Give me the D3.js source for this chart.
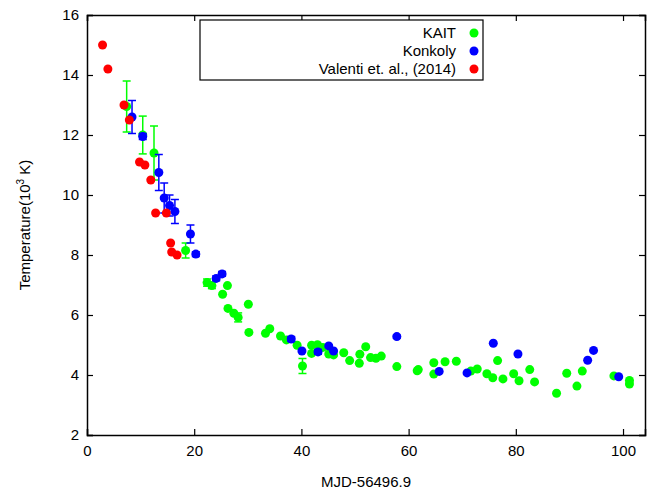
<!DOCTYPE html>
<html lang="en">
<head>
<meta charset="utf-8">
<script src="https://d3js.org/d3.v7.min.js"></script>
<style>
body { margin: 0; background: #fff; }
text { font-family: "Liberation Sans", Arial, sans-serif; }
</style>
</head>
<body>
<script>
// [mjd, T, err]
var kait = [[7.4,12.95,0.85],[10.4,12.0,0.63],[12.5,11.4,0.9],[18.4,8.15,0.25],
  [22.4,7.08,0.12],[23.3,6.98,0.1],[26.2,6.98,0],[25.3,6.69,0],[26.3,6.22,0],[27.4,6.06,0],
  [28.2,5.92,0.15],[30.1,6.36,0],[30.2,5.42,0],[33.3,5.39,0],[34.1,5.54,0],[36.1,5.3,0],
  [37.2,5.17,0],[39.2,4.99,0],[40.2,4.3,0.25],[41.9,4.99,0],[41.9,4.72,0],[43.0,5.01,0],
  [44.0,4.92,0],[45.1,4.7,0],[46.0,4.67,0],[47.9,4.74,0],[49.0,4.48,0],[50.9,4.69,0],
  [50.8,4.39,0],[52.0,4.94,0],[52.9,4.58,0],[53.9,4.56,0],[54.9,4.63,0],[57.8,4.28,0],
  [61.6,4.14,0],[61.8,4.18,0],[64.7,4.41,0],[64.7,4.03,0],[66.8,4.44,0],[68.9,4.46,0],[71.6,4.13,0],
  [72.8,4.2,0],[74.6,4.04,0],[75.7,3.91,0],[76.6,4.48,0],[77.6,3.87,0],[79.6,4.04,0],
  [80.6,3.81,0],[82.6,4.18,0],[83.5,3.77,0],[87.6,3.39,0],[89.5,4.06,0],[91.4,3.63,0],
  [92.4,4.13,0],[98.3,3.97,0],[101.2,3.82,0],[101.2,3.7,0]];
var konkoly = [[8.4,12.6,0.55],[10.4,11.95,0.1],[13.4,10.75,0.6],[14.4,9.9,0.5],[15.4,9.65,0.35],
  [16.4,9.45,0.4],[19.3,8.7,0.3],[20.3,8.03,0.08],[24.1,7.22,0.08],[25.2,7.37,0.08],[38.1,5.2,0.08],
  [40.1,4.8,0],[43.1,4.77,0.08],[45.1,4.97,0],[46.0,4.8,0],[57.8,5.28,0.05],
  [65.7,4.12,0],[70.9,4.07,0],[75.8,5.06,0],[80.4,4.7,0],[93.4,4.49,0],[94.5,4.82,0],[99.2,3.94,0]];
var valenti = [[2.9,15.0,0],[3.9,14.2,0],[6.9,13.0,0],[7.9,12.5,0],[9.8,11.1,0],[10.8,11.0,0],
  [11.9,10.5,0],[12.8,9.4,0],[14.8,9.4,0],[15.6,8.4,0],[15.8,8.1,0],[16.8,8.0,0]];
var series = [
  {name: "KAIT", color: "#00ff00", data: kait},
  {name: "Konkoly", color: "#0000ff", data: konkoly},
  {name: "Valenti et. al., (2014)", color: "#ff0000", data: valenti}
];
var xTicks = [0, 20, 40, 60, 80, 100];
var yTicks = [2, 4, 6, 8, 10, 12, 14, 16];

var W = 655, H = 491, m = {l: 87, r: 10, t: 15, b: 56};
var svg = d3.select("body").append("svg").attr("width", W).attr("height", H);
var x = d3.scaleLinear().domain([0, 104.1]).range([m.l, W - m.r]);
var y = d3.scaleLinear().domain([2, 16]).range([H - m.b, m.t]);

svg.append("g").attr("transform", "translate(0," + (H - m.b) + ")")
  .call(d3.axisBottom(x).tickValues(xTicks).tickSize(-6).tickPadding(10));
svg.append("g").attr("transform", "translate(" + m.l + ",0)")
  .call(d3.axisLeft(y).tickValues(yTicks).tickSize(-6).tickPadding(8));
svg.append("g").attr("transform", "translate(0," + m.t + ")")
  .call(d3.axisTop(x).tickValues(xTicks).tickSize(-6).tickFormat(""));
svg.append("g").attr("transform", "translate(" + (W - m.r) + ",0)")
  .call(d3.axisRight(y).tickValues(yTicks).tickSize(-6).tickFormat(""));
svg.selectAll(".domain").attr("stroke", "#000").attr("stroke-width", 1.5);
svg.selectAll(".tick line").attr("stroke-width", 1.2);
svg.selectAll(".tick text").attr("font-size", 15).attr("fill", "#000")
  .style("font-family", "Liberation Sans, Arial, sans-serif");

svg.append("text").attr("x", (m.l + W - m.r) / 2).attr("y", H - 4)
  .attr("text-anchor", "middle").attr("font-size", 15).text("MJD-56496.9");
var yl = svg.append("text").attr("transform", "translate(30," + ((m.t + H - m.b) / 2) + ") rotate(-90)")
  .attr("text-anchor", "middle").attr("font-size", 15);
yl.append("tspan").text("Temperature(10");
yl.append("tspan").attr("font-size", 10).attr("dy", -6).text("3");
yl.append("tspan").attr("dy", 6).text(" K)");

series.forEach(function(s) {
  var g = svg.append("g");
  s.data.filter(function(d) { return d[2] > 0; }).forEach(function(d) {
    var cx = x(d[0]), y1 = y(d[1] + d[2]), y2 = y(d[1] - d[2]);
    g.append("line").attr("x1", cx).attr("x2", cx).attr("y1", y1).attr("y2", y2)
      .attr("stroke", s.color).attr("stroke-width", 1.5);
    [y1, y2].forEach(function(yy) {
      g.append("line").attr("x1", cx - 4).attr("x2", cx + 4).attr("y1", yy).attr("y2", yy)
        .attr("stroke", s.color).attr("stroke-width", 1.5);
    });
  });
  g.selectAll("circle").data(s.data).enter().append("circle")
    .attr("cx", function(d) { return x(d[0]); })
    .attr("cy", function(d) { return y(d[1]); })
    .attr("r", 4.5).attr("fill", s.color);
});

var lg = svg.append("g");
lg.append("rect").attr("x", 200).attr("y", 20).attr("width", 283).attr("height", 60)
  .attr("fill", "#fff").attr("stroke", "#000").attr("stroke-width", 1.2);
series.forEach(function(s, i) {
  var yy = 33 + i * 18;
  lg.append("text").attr("x", 456).attr("y", yy + 5).attr("text-anchor", "end")
    .attr("font-size", 15).text(s.name);
  lg.append("circle").attr("cx", 474).attr("cy", yy).attr("r", 4.5).attr("fill", s.color);
});
</script>
</body>
</html>
